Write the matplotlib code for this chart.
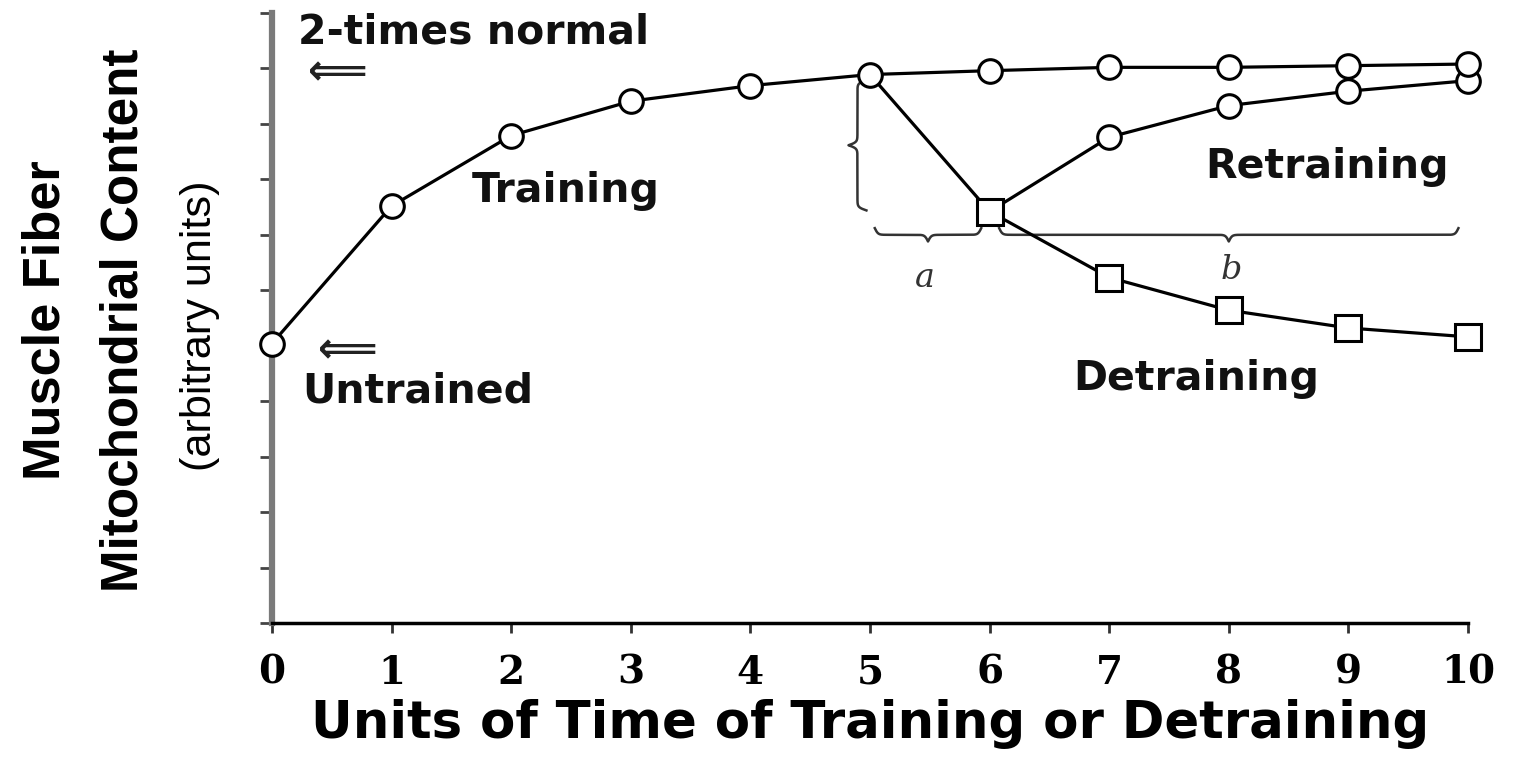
import numpy as np
import matplotlib
matplotlib.use('Agg')
import matplotlib.pyplot as plt
from matplotlib import font_manager

# Dados (unidades arbitrárias; 5 = não treinado, 10 = 2x normal)
tempo_treino = [0, 1, 2, 3, 4, 5]
treino = [5.04, 7.52, 8.79, 9.41, 9.69, 9.89]
tempo_pos = [5, 6, 7, 8, 9, 10]
continuo = [9.89, 9.96, 10.02, 10.02, 10.05, 10.08]
destreino = [9.89, 7.42, 6.23, 5.64, 5.32, 5.16]
tempo_retreino = [6, 7, 8, 9, 10]
retreino = [7.42, 8.76, 9.33, 9.59, 9.78]
rotulos_x = ['0', '1', '2', '3', '4', '5', '6', '7', '8', '9', '10']

nomes = {f.name for f in font_manager.fontManager.ttflist}
if 'Liberation Sans Narrow' in nomes:
    fonte_y, esc = ['Liberation Sans Narrow', 'DejaVu Sans'], 1.0
else:
    fonte_y, esc = ['Liberation Sans', 'DejaVu Sans'], 0.82


def Chave(ax, ini, fim, base, prof, k, vertical=False, n=300):  # chave { }
    t = np.linspace(0, 0.5, n)
    h = 1 / (1 + np.exp(-k * t)) + 1 / (1 + np.exp(-k * (t - 0.5))) - 0.5
    h = np.concatenate((h, h[::-1][1:]))
    ao_longo = np.linspace(ini, fim, len(h))
    desvio = base - prof * h
    if vertical:
        ax.plot(desvio, ao_longo, color='#333333', lw=1.8, zorder=2)
    else:
        ax.plot(ao_longo, desvio, color='#333333', lw=1.8, zorder=2)


fig = plt.figure(figsize=(15.13, 7.62), dpi=100)
ax = fig.add_axes([272 / 1513, 1 - 623 / 762, (1468 - 272) / 1513, (623 - 13) / 762])
ax.set_xlim(0, 10)
ax.set_ylim(0, 11)

estilo = dict(color='black', lw=2.3, mfc='white', mec='black', mew=2.2, clip_on=False)
ax.plot(tempo_retreino, retreino, marker='o', ms=17, markevery=list(range(1, 5)), zorder=3, **estilo)
ax.plot(tempo_pos, continuo, marker='o', ms=17, markevery=list(range(1, 6)), zorder=4, **estilo)
ax.plot(tempo_pos, destreino, marker='s', ms=19, markevery=list(range(1, 6)), zorder=4.5, **estilo)
ax.plot(tempo_treino, treino, marker='o', ms=17, zorder=5, **estilo)

# chaves a e b
Chave(ax, tempo_pos[0] + 0.04, tempo_pos[1] - 0.07, 7.12, 0.24, 66)
Chave(ax, tempo_pos[1] + 0.08, tempo_pos[-1] - 0.08, 7.12, 0.24, 290)
Chave(ax, destreino[1] + 0.02, treino[-1] - 0.1, 4.97, 0.15, 84, vertical=True)
ax.text(5.46, 6.22, 'a', fontsize=24, family='DejaVu Serif', style='italic', color='#333333', ha='center', va='center')
ax.text(8.02, 6.36, 'b', fontsize=24, family='DejaVu Serif', style='italic', color='#333333', ha='center', va='center')

# textos
txt = dict(fontsize=29.5, fontweight='bold', color='#111111', ha='left', va='baseline')
ax.text(0.217, 10.45, '2-times normal', **txt)
ax.text(0.25, 3.98, 'Untrained', **txt)
ax.text(1.67, 7.59, 'Training', **txt)
ax.text(7.80, 8.02, 'Retraining', **txt)
ax.text(6.70, 4.20, 'Detraining', **txt)
ax.text(0.55, 9.93, '\u27f8', fontsize=30, fontweight='bold', color='#222222', ha='center', va='center')
ax.text(0.635, 4.92, '\u27f8', fontsize=30, fontweight='bold', color='#222222', ha='center', va='center')

ax.spines['top'].set_visible(False)
ax.spines['right'].set_visible(False)
ax.spines['left'].set_color('#7a7a7a')
ax.spines['left'].set_linewidth(4.5)
ax.spines['bottom'].set_linewidth(2.5)
ax.set_yticks(range(0, 12))
ax.tick_params(axis='y', direction='out', length=9, width=2, color='#444444', labelleft=False)
ax.set_xticks(range(11), rotulos_x, fontfamily='DejaVu Serif', fontweight='bold', fontsize=28)
ax.tick_params(axis='x', direction='out', length=7, width=2, color='#333333', pad=15)
ax.set_xlabel('Units of Time of Training or Detraining', fontsize=37, fontweight='bold', va='top')
ax.xaxis.set_label_coords(0.5, -0.124)

fig.text(46 / 1513, 0.58, 'Muscle Fiber', rotation=90, family=fonte_y, fontweight='bold',
         fontsize=46 * esc, ha='center', va='center')
fig.text(124 / 1513, 0.58, 'Mitochondrial Content', rotation=90, family=fonte_y, fontweight='bold',
         fontsize=45 * esc, ha='center', va='center')
fig.text(200 / 1513, 0.572, '(arbitrary units)', rotation=90, family=fonte_y,
         fontsize=38 * esc, ha='center', va='center')

fig.savefig('out.png', dpi=100)
